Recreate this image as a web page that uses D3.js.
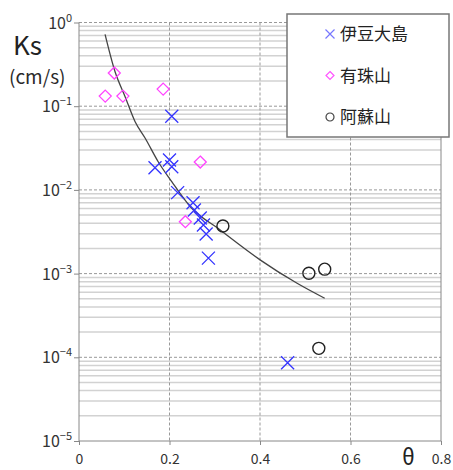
<!DOCTYPE html>
<html>
<head>
<meta charset="utf-8">
<script src="https://cdn.jsdelivr.net/npm/d3@7"></script>
<style>
  body { margin: 0; background: #fff; }
  text { font-family: "Noto Sans CJK JP", "Noto Sans", sans-serif; }
</style>
</head>
<body>
<svg id="chart" width="453" height="470"></svg>
<script>
// data
const izuTheta = [0.205, 0.168, 0.200, 0.205, 0.218, 0.252, 0.255, 0.268, 0.275, 0.281, 0.286, 0.461];
const izuKs = [0.0757, 0.0184, 0.0228, 0.0189, 0.00927, 0.00703, 0.00576, 0.00462, 0.00381, 0.00297, 0.00153, 0.000086];

const usuTheta = [0.078, 0.058, 0.097, 0.186, 0.268, 0.235];
const usuKs = [0.249, 0.132, 0.132, 0.160, 0.0215, 0.00417];

const asoTheta = [0.318, 0.508, 0.543, 0.530];
const asoKs = [0.0037, 0.00101, 0.00113, 0.000128];

const fitTheta = [0.0576, 0.0797, 0.1019, 0.124, 0.146, 0.175, 0.205, 0.246, 0.312, 0.401, 0.482, 0.543];
const fitKs = [0.723, 0.258, 0.130, 0.0653, 0.0417, 0.0217, 0.01253, 0.0063, 0.00332, 0.00145, 0.000766, 0.000507];

const xTicks = [0, 0.2, 0.4, 0.6, 0.8];
const yExps = [0, -1, -2, -3, -4, -5];
const legendNames = ['伊豆大島', '有珠山', '阿蘇山'];

const svg = d3.select('#chart');
const plotLeft = 79, plotRight = 441, plotTop = 22.5, plotBottom = 441;

const x = d3.scaleLinear().domain([0, 0.8]).range([plotLeft, plotRight]);
const y = d3.scaleLog().domain([1e-5, 1]).range([plotBottom, plotTop]);

// minor grid
const minors = [];
yExps.slice(1).forEach(e => {
  for (let k = 2; k <= 9; k++) minors.push(k * Math.pow(10, e));
});
svg.append('g')
  .selectAll('line')
  .data(minors)
  .enter()
  .append('line')
  .attr('x1', plotLeft).attr('x2', plotRight)
  .attr('y1', d => y(d)).attr('y2', d => y(d))
  .attr('stroke', '#d2d2d2')
  .attr('stroke-width', 1.5);

// major grid, dashed
svg.append('g')
  .selectAll('line')
  .data(yExps.slice(0, 5))
  .enter()
  .append('line')
  .attr('x1', plotLeft).attr('x2', plotRight)
  .attr('y1', d => y(Math.pow(10, d))).attr('y2', d => y(Math.pow(10, d)))
  .attr('stroke', '#999')
  .attr('stroke-dasharray', '3,2');

svg.append('g')
  .selectAll('line')
  .data(xTicks.slice(1, 4))
  .enter()
  .append('line')
  .attr('x1', d => x(d)).attr('x2', d => x(d))
  .attr('y1', plotTop).attr('y2', plotBottom)
  .attr('stroke', '#999')
  .attr('stroke-dasharray', '3,2');

// frame
svg.append('line').attr('x1', plotLeft).attr('x2', plotLeft).attr('y1', plotTop).attr('y2', plotBottom).attr('stroke', '#888');
svg.append('line').attr('x1', plotRight).attr('x2', plotRight).attr('y1', plotTop).attr('y2', plotBottom).attr('stroke', '#888');
svg.append('line').attr('x1', plotLeft).attr('x2', plotRight).attr('y1', plotBottom).attr('y2', plotBottom).attr('stroke', '#888');

// axes
const xAxis = svg.append('g')
  .attr('transform', 'translate(0,' + plotBottom + ')')
  .call(d3.axisBottom(x).tickValues(xTicks).tickSize(4).tickFormat(d => d === 0 ? '0' : d3.format('.1f')(d)));
xAxis.select('.domain').remove();
xAxis.selectAll('line').attr('stroke', '#888');
xAxis.selectAll('text').attr('font-size', 14).attr('fill', '#333').attr('dy', '1.15em');

const yAxis = svg.append('g')
  .attr('transform', 'translate(' + plotLeft + ',0)')
  .call(d3.axisLeft(y).tickValues(yExps.map(e => Math.pow(10, e))).tickSize(5).tickFormat(''));
yAxis.select('.domain').remove();
yAxis.selectAll('line').attr('stroke', '#888');

const yLabels = svg.append('g')
  .selectAll('text')
  .data(yExps)
  .enter()
  .append('text')
  .attr('x', 72)
  .attr('y', d => y(Math.pow(10, d)) + 6)
  .attr('text-anchor', 'end')
  .attr('fill', '#333')
  .attr('font-size', 16);
yLabels.append('tspan').text('10');
yLabels.append('tspan')
  .attr('font-size', 11)
  .attr('dy', -7)
  .text(d => d === 0 ? '0' : '\u2212' + (-d));

// axis titles
svg.append('text').attr('x', 13).attr('y', 55).attr('font-size', 26).attr('fill', '#222').text('Ks');
svg.append('text').attr('x', 9).attr('y', 84).attr('font-size', 19).attr('fill', '#2a2a2a').text('(cm/s)');
svg.append('text').attr('x', 402).attr('y', 465).attr('font-size', 22).attr('fill', '#222').text('θ');

// fit curve
const line = d3.line()
  .x(d => x(d[0]))
  .y(d => y(d[1]))
  .curve(d3.curveMonotoneX);
svg.append('path')
  .datum(fitTheta.map((t, i) => [t, fitKs[i]]))
  .attr('d', line)
  .attr('fill', 'none')
  .attr('stroke', '#444')
  .attr('stroke-width', 1.3);

// markers
function cross(s) {
  return 'M' + (-s) + ',' + (-s) + 'L' + s + ',' + s + 'M' + (-s) + ',' + s + 'L' + s + ',' + (-s);
}
function diamond(s) {
  return 'M0,' + (-s) + 'L' + s + ',0L0,' + s + 'L' + (-s) + ',0Z';
}

svg.append('g')
  .selectAll('path')
  .data(usuTheta.map((t, i) => [t, usuKs[i]]))
  .enter()
  .append('path')
  .attr('transform', d => 'translate(' + x(d[0]) + ',' + y(d[1]) + ')')
  .attr('d', diamond(6))
  .attr('fill', 'none')
  .attr('stroke', '#ff44ff')
  .attr('stroke-width', 1.3);

svg.append('g')
  .selectAll('circle')
  .data(asoTheta.map((t, i) => [t, asoKs[i]]))
  .enter()
  .append('circle')
  .attr('cx', d => x(d[0]))
  .attr('cy', d => y(d[1]))
  .attr('r', 6)
  .attr('fill', 'none')
  .attr('stroke', '#222')
  .attr('stroke-width', 1.4);

svg.append('g')
  .selectAll('path')
  .data(izuTheta.map((t, i) => [t, izuKs[i]]))
  .enter()
  .append('path')
  .attr('transform', d => 'translate(' + x(d[0]) + ',' + y(d[1]) + ')')
  .attr('d', cross(6.5))
  .attr('fill', 'none')
  .attr('stroke', '#3333ff')
  .attr('stroke-width', 1.3);

// legend
const legend = svg.append('g');
legend.append('rect')
  .attr('x', 287).attr('y', 14).attr('width', 162).attr('height', 123)
  .attr('fill', '#fff').attr('stroke', '#777').attr('stroke-width', 1.5);

const rows = legend.selectAll('g.row')
  .data(legendNames)
  .enter()
  .append('g')
  .attr('class', 'row')
  .attr('transform', (d, i) => 'translate(330,' + (34 + i * 41.5) + ')');

rows.append('text')
  .attr('x', 10)
  .attr('y', 6)
  .attr('font-size', 17)
  .attr('fill', '#222')
  .text(d => d);

rows.filter((d, i) => i === 0).append('path')
  .attr('d', cross(4.5)).attr('stroke', '#7777ff').attr('stroke-width', 1.2).attr('fill', 'none');
rows.filter((d, i) => i === 1).append('path')
  .attr('d', diamond(4)).attr('stroke', '#ff55ff').attr('stroke-width', 1.2).attr('fill', 'none');
rows.filter((d, i) => i === 2).append('circle')
  .attr('r', 4).attr('stroke', '#444').attr('stroke-width', 1.2).attr('fill', 'none');
</script>
</body>
</html>
